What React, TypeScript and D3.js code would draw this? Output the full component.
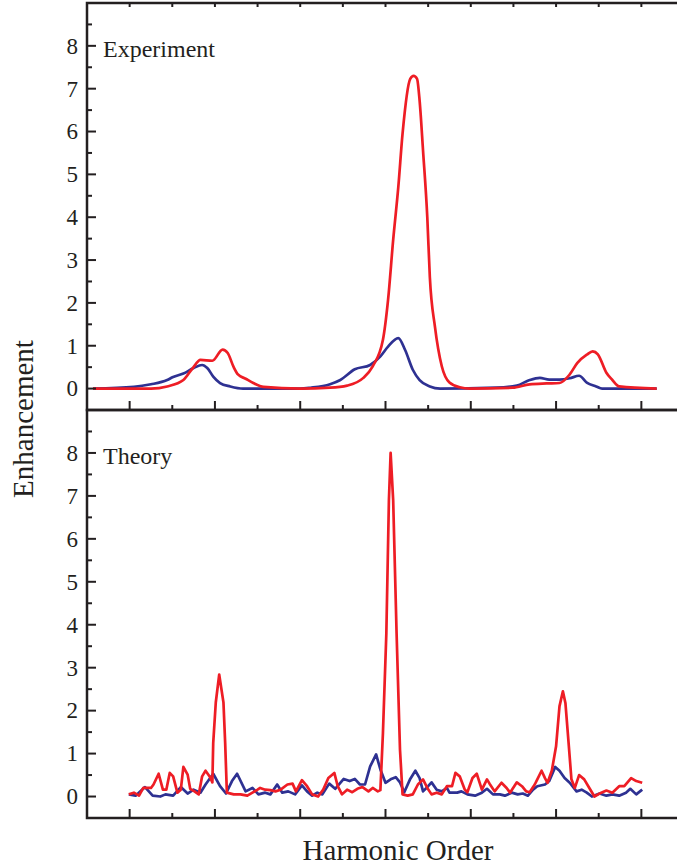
import * as d3 from 'd3';

// Experiment panel (top): [position, enhancement]
const expRed: [number, number][] = [
  [-0.43, 0], [0.25, 0], [0.44, 0.05], [0.63, 0.2], [0.74, 0.48], [0.83, 0.67], [0.97, 0.65],
  [1.09, 0.91], [1.15, 0.83], [1.22, 0.5], [1.27, 0.33], [1.36, 0.23], [1.45, 0.13], [1.57, 0.04],
  [2.0, 0], [2.35, 0.02], [2.55, 0.07], [2.74, 0.25], [2.85, 0.52], [2.97, 1.14], [3.03, 2.07],
  [3.09, 3.47], [3.15, 4.7], [3.2, 5.95], [3.29, 7.23], [3.33, 7.3], [3.37, 7.23], [3.4, 6.72],
  [3.44, 5.56], [3.49, 4.0], [3.52, 2.6], [3.58, 1.44], [3.66, 0.52], [3.75, 0.14], [3.87, 0.03],
  [3.99, 0], [4.49, 0.02], [4.69, 0.1], [4.89, 0.12], [5.04, 0.13], [5.16, 0.33], [5.25, 0.6],
  [5.36, 0.79], [5.43, 0.87], [5.49, 0.8], [5.59, 0.37], [5.66, 0.2], [5.74, 0.05], [6.18, 0],
];

const expBlue: [number, number][] = [
  [-0.43, 0], [0.05, 0.04], [0.25, 0.1], [0.44, 0.2], [0.51, 0.27], [0.63, 0.35], [0.75, 0.48],
  [0.85, 0.55], [0.91, 0.48], [0.98, 0.28], [1.06, 0.13], [1.18, 0.05], [1.33, 0], [2.0, 0],
  [2.12, 0.02], [2.35, 0.1], [2.47, 0.2], [2.64, 0.45], [2.82, 0.55], [2.94, 0.75], [3.03, 0.98],
  [3.15, 1.18], [3.23, 0.9], [3.32, 0.44], [3.4, 0.2], [3.52, 0.05], [3.64, 0], [4.3, 0.02],
  [4.54, 0.07], [4.69, 0.2], [4.81, 0.25], [4.92, 0.21], [5.04, 0.21], [5.16, 0.24], [5.27, 0.3],
  [5.36, 0.14], [5.47, 0.05], [5.54, 0], [6.18, 0],
];

// Theory panel (bottom)
const thRed: [number, number][] = [
  [-0.01, 0.05], [0.05, 0.09], [0.11, 0.02], [0.16, 0.2], [0.25, 0.2], [0.28, 0.28], [0.34, 0.53],
  [0.39, 0.16], [0.43, 0.16], [0.47, 0.55], [0.51, 0.47], [0.56, 0.09], [0.6, 0.16], [0.63, 0.69],
  [0.68, 0.51], [0.71, 0.18], [0.76, 0.12], [0.81, 0.05], [0.85, 0.47], [0.89, 0.6], [0.94, 0.46],
  [0.97, 0.33], [0.98, 1.25], [1.01, 2.19], [1.05, 2.84], [1.1, 2.19], [1.12, 1.25], [1.14, 0.09],
  [1.22, 0.05], [1.3, 0.05], [1.38, 0.02], [1.44, 0.09], [1.5, 0.16], [1.53, 0.2], [1.59, 0.16],
  [1.65, 0.15], [1.71, 0.12], [1.77, 0.16], [1.85, 0.28], [1.91, 0.3], [1.95, 0.12], [2.02, 0.38],
  [2.08, 0.24], [2.14, 0.05], [2.21, 0], [2.27, 0.16], [2.33, 0.43], [2.4, 0.55], [2.44, 0.24],
  [2.49, 0.05], [2.55, 0.16], [2.61, 0.1], [2.67, 0.18], [2.73, 0.22], [2.8, 0.12], [2.85, 0.2],
  [2.91, 0.12], [2.94, 0.15], [2.97, 1.48], [3.01, 3.8], [3.04, 6.9], [3.06, 8.0], [3.09, 6.9],
  [3.13, 3.8], [3.17, 1.09], [3.2, 0.05], [3.26, 0.02], [3.32, 0.05], [3.38, 0.28], [3.44, 0.4],
  [3.49, 0.2], [3.54, 0.05], [3.6, 0.09], [3.66, 0.05], [3.72, 0.24], [3.78, 0.24], [3.82, 0.55],
  [3.87, 0.47], [3.93, 0.16], [3.96, 0.1], [4.02, 0.43], [4.07, 0.53], [4.13, 0.16], [4.19, 0.4],
  [4.22, 0.3], [4.28, 0.12], [4.36, 0.32], [4.42, 0.2], [4.46, 0.09], [4.54, 0.33], [4.6, 0.24],
  [4.65, 0.12], [4.69, 0.1], [4.75, 0.28], [4.78, 0.4], [4.83, 0.6], [4.87, 0.43], [4.9, 0.32],
  [4.95, 0.6], [5.0, 1.17], [5.04, 2.1], [5.08, 2.45], [5.11, 2.17], [5.15, 1.17], [5.18, 0.4],
  [5.22, 0.2], [5.27, 0.5], [5.33, 0.4], [5.39, 0.2], [5.45, 0], [5.53, 0.09], [5.59, 0.14],
  [5.66, 0.09], [5.74, 0.24], [5.8, 0.24], [5.88, 0.43], [5.94, 0.36], [6.01, 0.32],
];

const thBlue: [number, number][] = [
  [-0.01, 0.05], [0.07, 0.02], [0.18, 0.22], [0.27, 0.02], [0.36, 0], [0.42, 0.05], [0.51, 0.02],
  [0.6, 0.22], [0.68, 0.07], [0.75, 0.16], [0.83, 0.09], [0.89, 0.28], [0.98, 0.53], [1.06, 0.24],
  [1.13, 0.07], [1.2, 0.36], [1.26, 0.53], [1.36, 0.12], [1.44, 0.2], [1.51, 0.05], [1.59, 0.09],
  [1.65, 0.05], [1.73, 0.28], [1.79, 0.09], [1.86, 0.12], [1.94, 0.05], [2.02, 0.26], [2.08, 0.12],
  [2.14, 0.02], [2.2, 0.09], [2.26, 0.05], [2.34, 0.3], [2.41, 0.18], [2.47, 0.32], [2.51, 0.41],
  [2.58, 0.36], [2.64, 0.41], [2.7, 0.28], [2.76, 0.28], [2.82, 0.7], [2.89, 0.98], [2.94, 0.63],
  [3.0, 0.32], [3.06, 0.4], [3.12, 0.45], [3.17, 0.33], [3.22, 0.1], [3.29, 0.41], [3.35, 0.6],
  [3.4, 0.43], [3.44, 0.12], [3.5, 0.24], [3.54, 0.33], [3.6, 0.16], [3.66, 0.12], [3.72, 0.2],
  [3.75, 0.09], [3.84, 0.09], [3.89, 0.12], [3.96, 0.05], [4.05, 0.02], [4.13, 0.09], [4.19, 0.18],
  [4.26, 0.05], [4.34, 0.05], [4.4, 0.02], [4.48, 0.09], [4.55, 0.05], [4.61, 0.07], [4.67, 0.02],
  [4.73, 0.16], [4.78, 0.24], [4.87, 0.28], [4.92, 0.36], [4.99, 0.69], [5.04, 0.6], [5.1, 0.43],
  [5.16, 0.32], [5.24, 0.12], [5.3, 0.16], [5.36, 0.09], [5.42, 0], [5.51, 0.07], [5.59, 0.02],
  [5.66, 0.05], [5.74, 0.02], [5.82, 0.09], [5.87, 0.18], [5.94, 0.05], [6.01, 0.16],
];

const yTickLabels = [0, 1, 2, 3, 4, 5, 6, 7, 8];
const yMinor = [0.5, 1.5, 2.5, 3.5, 4.5, 5.5, 6.5, 7.5, 8.5];
const xMajor = [0, 1, 2, 3, 4, 5, 6];
const xMinor = [0.5, 1.5, 2.5, 3.5, 4.5, 5.5];

const RED = '#ee1d25';
const BLUE = '#2e3192';
const INK = '#231f20';
const FONT = '"Liberation Serif", "Times New Roman", serif';

const W = 677;
const H = 868;
const left = 87;
const right = 684;

const x = d3.scaleLinear().domain([-0.5, 6.5]).range([left, right]);

type PanelProps = {
  top: number;
  bottom: number;
  label: string;
  red: [number, number][];
  blue: [number, number][];
  smooth: boolean;
  topTicks: boolean;
};

const Panel = ({ top, bottom, label, red, blue, smooth, topTicks }: PanelProps) => {
  const y = d3.scaleLinear().domain([-0.5, 9]).range([bottom, top]);
  const line = d3.line<[number, number]>()
    .x(d => x(d[0]))
    .y(d => y(d[1]))
    .curve(smooth ? d3.curveMonotoneX : d3.curveLinear);

  return (
    <g>
      <path d={line(blue) || ''} fill="none" stroke={BLUE} strokeWidth={2.7} strokeLinejoin="round" />
      <path d={line(red) || ''} fill="none" stroke={RED} strokeWidth={2.7} strokeLinejoin="round" />
      {/* y ticks, pointing in */}
      {yTickLabels.map(v => (
        <g key={'y' + v}>
          <line x1={left} x2={left + 9} y1={y(v)} y2={y(v)} stroke={INK} strokeWidth={2} />
          <text x={78} y={y(v)} dy="0.34em" textAnchor="end" fontFamily={FONT} fontSize={23} fill={INK}>{v}</text>
        </g>
      ))}
      {yMinor.map(v => (
        <line key={'ym' + v} x1={left} x2={left + 5} y1={y(v)} y2={y(v)} stroke={INK} strokeWidth={2} />
      ))}
      {/* x ticks, no labels */}
      {xMajor.map(v => (
        <line key={'x' + v} x1={x(v)} x2={x(v)} y1={bottom} y2={bottom - 9} stroke={INK} strokeWidth={2} />
      ))}
      {xMinor.map(v => (
        <line key={'xm' + v} x1={x(v)} x2={x(v)} y1={bottom} y2={bottom - 5} stroke={INK} strokeWidth={2} />
      ))}
      {topTicks && xMajor.concat(xMinor).map(v => (
        <line key={'xt' + v} x1={x(v)} x2={x(v)} y1={top} y2={top + 4} stroke={INK} strokeWidth={2} />
      ))}
      <rect x={left} y={top} width={right - left} height={bottom - top} fill="none" stroke={INK} strokeWidth={2.5} />
      <text x={103} y={top + 54} fontFamily={FONT} fontSize={24} fill={INK}>{label}</text>
    </g>
  );
};

export default function App() {
  return (
    <svg width={W} height={H} style={{ position: 'absolute', left: 0, top: 0, background: '#fff' }}>
      <Panel top={3} bottom={410} label="Experiment" red={expRed} blue={expBlue} smooth={true} topTicks={true} />
      <Panel top={410} bottom={818} label="Theory" red={thRed} blue={thBlue} smooth={false} topTicks={false} />
      <text transform="translate(33,419) rotate(-90)" textAnchor="middle" fontFamily={FONT} fontSize={29} fill={INK}>Enhancement</text>
      <text x={398} y={860} textAnchor="middle" fontFamily={FONT} fontSize={29} fill={INK}>Harmonic Order</text>
    </svg>
  );
}
